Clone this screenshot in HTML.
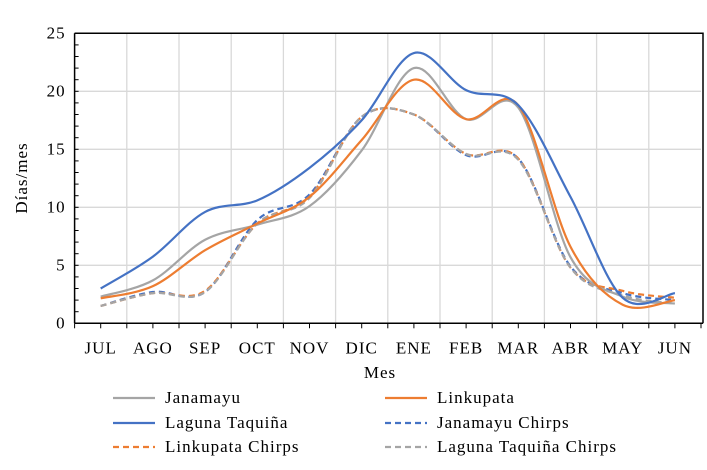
<!DOCTYPE html>
<html><head><meta charset="utf-8"><style>
body{margin:0;background:#fff;}
svg{display:block;font-family:"Liberation Serif",serif;}
text{letter-spacing:1px;}
</style></head><body>
<svg id="chart" width="707" height="470" viewBox="0 0 707 470" xmlns="http://www.w3.org/2000/svg">
<g id="grid"></g>
<g id="series"></g>
<g id="axes"></g>
<text x="27" y="178" font-size="17" text-anchor="middle" transform="rotate(-90 27 178)">Días/mes</text>
<text x="380" y="378" font-size="17" text-anchor="middle">Mes</text>
<g id="legend"></g>
</svg>
<script>
const months=["JUL","AGO","SEP","OCT","NOV","DIC","ENE","FEB","MAR","ABR","MAY","JUN"];
const yTicks=[0,5,10,15,20,25];
const janamayu=[2.3,3.7,7.2,8.5,10.1,14.9,22.0,17.6,18.6,5.7,2.3,1.7];
const linkupata=[2.15,3.2,6.3,8.6,10.9,15.8,21.0,17.6,18.8,6.6,1.6,2.0];
const laguna=[3.0,5.75,9.6,10.6,13.4,17.5,23.3,20.1,18.8,10.9,2.2,2.6];
const janamayuChirps=[1.5,2.7,2.7,8.9,11.1,17.8,18.0,14.5,14.2,4.9,2.6,2.0];
const linkupataChirps=[1.5,2.6,2.8,8.6,10.9,17.8,18.0,14.6,14.2,4.8,2.8,2.2];
const lagunaChirps=[1.5,2.6,2.7,8.6,10.8,17.8,18.0,14.6,14.1,4.8,2.4,1.7];
const seriesNames=["Janamayu","Linkupata","Laguna Taquiña","Janamayu Chirps","Linkupata Chirps","Laguna Taquiña Chirps"];

const L=74.6,R=701,T=33.3,B=323.3,ymax=25;
const bw=(R-L)/months.length;
const xc=i=>L+bw*(i+0.5);
const y=v=>B-(v/ymax)*(B-T);
const NS="http://www.w3.org/2000/svg";
function mk(tag,attrs,parent){const e=document.createElementNS(NS,tag);for(const k in attrs)e.setAttribute(k,attrs[k]);parent.appendChild(e);return e;}
const grid=document.getElementById('grid'),axes=document.getElementById('axes'),ser=document.getElementById('series'),leg=document.getElementById('legend');
yTicks.forEach(v=>{if(v>0&&v<ymax){const g=mk('line',{x1:L,x2:R,y1:y(v),y2:y(v),stroke:'#d9d9d9','stroke-width':1.3},grid);

}
const t=mk('text',{x:L-9,y:y(v)+5,'font-size':17,'text-anchor':'end'},axes);t.textContent=v;

});
for(let i=1;i<months.length;i++){const g=mk('line',{x1:L+bw*i,x2:L+bw*i,y1:T,y2:B,stroke:'#d9d9d9','stroke-width':1.3},grid);

}
const fr=mk('path',{d:`M${L},${T}H${R+2}V${B}`,fill:'none',stroke:'#000','stroke-width':1.5},axes);


const ya=mk('line',{x1:L,x2:L,y1:T,y2:B,stroke:'#000','stroke-width':1.5},axes);


const xa=mk('line',{x1:L,x2:R+2,y1:B,y2:B,stroke:'#000','stroke-width':1.5},axes);


for(let v=0;v<=ymax;v++){const t=mk('line',{x1:L,x2:L+4,y1:y(v),y2:y(v),stroke:'#000','stroke-width':1},axes);

}
for(let i=0;i<=months.length*2;i++){const xx=L+bw*i/2;const t=mk('line',{x1:xx,x2:xx,y1:B,y2:B+5,stroke:'#000','stroke-width':1},axes);

}
months.forEach((m,i)=>{const t=mk('text',{x:xc(i),y:B+30,'font-size':17,'text-anchor':'middle'},axes);t.textContent=m;

});
function smooth(vals){const p=vals.map((v,i)=>[xc(i),y(v)]);let d=`M${p[0][0]},${p[0][1]}`;
for(let i=0;i<p.length-1;i++){const p0=p[i-1]||p[i],p1=p[i],p2=p[i+1],p3=p[i+2]||p2;const k=1/6;
d+=`C${p1[0]+(p2[0]-p0[0])*k},${p1[1]+(p2[1]-p0[1])*k} ${p2[0]-(p3[0]-p1[0])*k},${p2[1]-(p3[1]-p1[1])*k} ${p2[0]},${p2[1]}`;}return d;}
const styles=[{c:'#a5a5a5',d:''},{c:'#ed7d31',d:''},{c:'#4472c4',d:''},{c:'#4472c4',d:'6,4'},{c:'#ed7d31',d:'6,4'},{c:'#a5a5a5',d:'6,4'}];
const data=[janamayu,linkupata,laguna,janamayuChirps,linkupataChirps,lagunaChirps];
const snames=['janamayu-line','linkupata-line','laguna-taquina-line','janamayu-chirps-line','linkupata-chirps-line','laguna-taquina-chirps-line'];
[3,4,5,0,1,2].forEach(k=>{const p=mk('path',{d:smooth(data[k]),fill:'none',stroke:styles[k].c,'stroke-width':2.2,'stroke-dasharray':styles[k].d},ser);

});
const lx=[113,385],ly=[398,423,447];
seriesNames.forEach((n,k)=>{const col=k%2,row=Math.floor(k/2);
const l=mk('line',{x1:lx[col],x2:lx[col]+42,y1:ly[row],y2:ly[row],stroke:styles[k].c,'stroke-width':2.2,'stroke-dasharray':styles[k].d},leg);


const t=mk('text',{x:lx[col]+52,y:ly[row]+5,'font-size':17},leg);t.textContent=n;

});
</script>
</body></html>
